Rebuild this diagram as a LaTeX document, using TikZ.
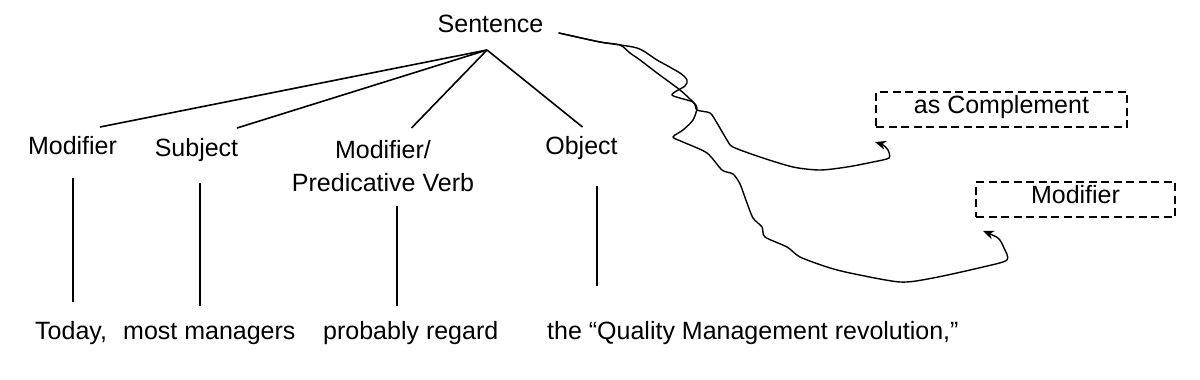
\documentclass[tikz,border=0pt]{standalone}
\usepackage{fontspec}
\setmainfont{Liberation Sans}
\usetikzlibrary{arrows.meta}
\begin{document}
\begin{tikzpicture}[x=1pt,y=-1pt,
  lbl/.style={font=\fontsize{25}{33.7}\selectfont, inner sep=0pt},
  branch/.style={line width=1.6pt},
  wig/.style={line width=1.4pt, line join=round, line cap=round},
  dbox/.style={draw, dash pattern=on 8pt off 4.5pt, line width=1.4pt,
    minimum width=251pt, minimum height=35pt, inner sep=0pt,
    font=\fontsize{25}{29}\selectfont, text height=0.72em, text depth=0pt},
  tip/.style={-{Stealth[length=11pt,width=9pt]}}
]
\useasboundingbox (0,0) rectangle (1200,380);

% tree labels
\node[lbl, anchor=base] (sent) at (490.5,32) {Sentence};
\node[lbl, anchor=base] (mod) at (72.5,154) {Modifier};
\node[lbl, anchor=base] (subj) at (196.5,156.5) {Subject};
\node[lbl, anchor=base, align=center] (pred) at (383,191.7) {Modifier/\\Predicative Verb};
\node[lbl, anchor=base] (obj) at (581.5,154) {Object};

% branch points
\coordinate (apex) at (487,50);
\coordinate (modT) at (100,127);
\coordinate (subjT) at (237,128);
\coordinate (predT) at (411.5,128);
\coordinate (objT) at (582.5,127);

\draw[branch] (apex) -- (modT);
\draw[branch] (apex) -- (subjT);
\draw[branch] (apex) -- (predT);
\draw[branch] (apex) -- (objT);

% vertical lines
\coordinate (m1) at (73,178);  \coordinate (m2) at (73,302);
\coordinate (s1) at (200,183); \coordinate (s2) at (200,306);
\coordinate (p1) at (397,206); \coordinate (p2) at (397,306);
\coordinate (o1) at (597,186); \coordinate (o2) at (597,286);
\draw[branch] (m1) -- (m2);
\draw[branch] (s1) -- (s2);
\draw[branch] (p1) -- (p2);
\draw[branch] (o1) -- (o2);

% bottom words
\node[lbl, anchor=base west] (w1) at (35,339) {Today,};
\node[lbl, anchor=base west] (w2) at (123,339) {most managers};
\node[lbl, anchor=base west] (w3) at (323,339) {probably regard};
\node[lbl, anchor=base west] (w4) at (547,339) {the “Quality Management revolution,”};

% dashed boxes
\node[dbox] (comp) at (1001.5,109.5) {as Complement};
\node[dbox, minimum width=199pt] (modbox) at (1075.5,199.5) {Modifier};

% freehand curves
\coordinate (cstart) at (559,33);
\coordinate (compTip) at (875,142);
\coordinate (modTip) at (983,231);

\draw[wig, tip] plot[smooth, tension=0.45] coordinates {(cstart) (600,42) (637,48)
  (657,60) (680,73) (687,80) (685,86) (672,95) (693,102) (697,110) (710,113)
  (717,123) (727,140) (733,147) (760,157) (793,167) (820,170) (847,167)
  (873,162) (889,158) (888,150) (883,145) (compTip)};

\draw[wig, tip] plot[smooth, tension=0.45] coordinates {(cstart) (600,42) (620,45)
  (630,53) (640,60) (657,73) (680,90) (693,102) (697,108) (693,120) (683,130)
  (673,137) (683,142) (707,153) (722,170) (733,174) (740,184) (747,203)
  (753,218) (762,227) (765,237) (787,247) (800,257) (827,267) (850,273)
  (900,282) (933,278) (983,267) (1007,260) (1004,248) (998,238) (modTip)};
\end{tikzpicture}
\end{document}
